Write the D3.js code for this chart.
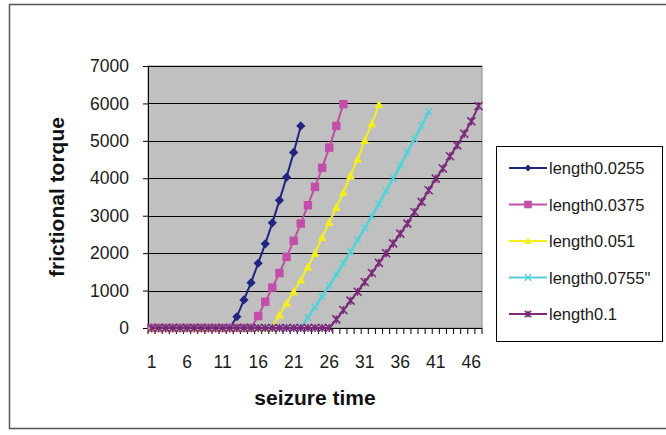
<!DOCTYPE html>
<html>
<head>
<meta charset="utf-8">
<script src="https://cdn.jsdelivr.net/npm/d3@7"></script>
<style>
  html, body { margin: 0; padding: 0; background: #fff; }
  svg { display: block; font-family: "Liberation Sans", Arial, sans-serif; }
</style>
</head>
<body>
<svg id="chart" width="666" height="435"></svg>
<script>
// Category axis (seizure time steps) and visible tick labels
const categories = [1,2,3,4,5,6,7,8,9,10,11,12,13,14,15,16,17,18,19,20,21,22,23,24,25,26,27,28,29,30,31,32,33,34,35,36,37,38,39,40,41,42,43,44,45,46,47];
const xTickLabels = [1, 6, 11, 16, 21, 26, 31, 36, 41, 46];
const yTicks = [0, 1000, 2000, 3000, 4000, 5000, 6000, 7000];

// Frictional torque per series
const length0255 = [0,0,0,0,0,0,0,0,0,0,0,0, 300,750,1210,1730,2250,2810,3410,4030,4690,5400];
const length0375 = [0,0,0,0,0,0,0,0,0,0,0,0,0,0,0, 320,700,1080,1470,1900,2330,2790,3280,3770,4280,4820,5400,5980];
const length051  = [0,0,0,0,0,0,0,0,0,0,0,0,0,0,0,0,0,0, 350,660,970,1280,1630,2000,2420,2820,3220,3620,4070,4510,5010,5460,5970];
const length0755 = [0,0,0,0,0,0,0,0,0,0,0,0,0,0,0,0,0,0,0,0,0,0, 280,560,840,1130,1430,1730,2040,2350,2670,2990,3320,3660,4000,4340,4700,5050,5410,5780];
const length01   = [0,0,0,0,0,0,0,0,0,0,0,0,0,0,0,0,0,0,0,0,0,0,0,0,0,0, 230,480,730,970,1230,1470,1740,2000,2260,2520,2790,3100,3370,3680,3990,4260,4590,4880,5190,5520,5930];

const seriesNames = ["length0.0255", "length0.0375", "length0.051", "length0.0755\"", "length0.1"];
const seriesValues = [length0255, length0375, length051, length0755, length01];
const seriesColors = ["#1f2580", "#c24ea9", "#f4ef1c", "#52d2d8", "#7b2a7a"];
const seriesMarkers = ["diamond", "square", "triangle", "cross", "star"];

const svg = d3.select("#chart");

// Outer chart frame
svg.append("rect")
  .attr("x", 9.5).attr("y", 4.5).attr("width", 670).attr("height", 424)
  .attr("fill", "#fff").attr("stroke", "#555").attr("stroke-width", 1.5);

const plot = { left: 148, right: 482, top: 66, bottom: 328 };

const x = d3.scaleBand().domain(categories).range([plot.left, plot.right]).paddingInner(0).paddingOuter(0);
const cx = d => x(d) + x.bandwidth() / 2;
const y = d3.scaleLinear().domain([0, 7000]).range([plot.bottom, plot.top]);

// Plot area
svg.append("rect")
  .attr("x", plot.left).attr("y", plot.top)
  .attr("width", plot.right - plot.left).attr("height", plot.bottom - plot.top)
  .attr("fill", "#c0c0c0").attr("stroke", "#8c8c8c").attr("stroke-width", 1);

// Horizontal gridlines
svg.append("g").selectAll("line")
  .data(yTicks.filter(v => v > 0))
  .join("line")
  .attr("x1", plot.left).attr("x2", plot.right)
  .attr("y1", d => Math.round(y(d)) + 0.5).attr("y2", d => Math.round(y(d)) + 0.5)
  .attr("stroke", "#000").attr("stroke-width", 1.2);

// Y axis
const yAxis = d3.axisLeft(y).tickValues(yTicks).tickSize(5).tickPadding(14).tickFormat(d3.format("d"));
const gy = svg.append("g").attr("transform", `translate(${plot.left},0)`).call(yAxis);
gy.select(".domain").attr("stroke", "#000");
gy.selectAll(".tick line").attr("stroke", "#000");
gy.selectAll(".tick text").attr("font-size", 17.5).attr("fill", "#1a1a1a")
  .attr("font-family", "Liberation Sans, Arial, sans-serif");

// X axis: line with ticks between categories
const gx = svg.append("g");
gx.append("line")
  .attr("x1", plot.left).attr("x2", plot.right)
  .attr("y1", plot.bottom + 0.5).attr("y2", plot.bottom + 0.5)
  .attr("stroke", "#000").attr("stroke-width", 1.2);
const boundaries = categories.map(c => x(c)).concat([plot.right]);
gx.selectAll("line.tk")
  .data(boundaries)
  .join("line").attr("class", "tk")
  .attr("x1", d => d).attr("x2", d => d)
  .attr("y1", plot.bottom).attr("y2", plot.bottom + 6)
  .attr("stroke", "#000").attr("stroke-width", 1);
gx.selectAll("text")
  .data(xTickLabels)
  .join("text")
  .attr("x", d => cx(d)).attr("y", plot.bottom + 40)
  .attr("text-anchor", "middle")
  .attr("font-size", 17.5).attr("fill", "#1a1a1a")
  .text(d => d);

// Axis titles
svg.append("text")
  .attr("x", 315).attr("y", 405)
  .attr("text-anchor", "middle")
  .attr("font-size", 21).attr("font-weight", "bold").attr("fill", "#111")
  .text("seizure time");
svg.append("text")
  .attr("transform", `translate(64,${(plot.top + plot.bottom) / 2}) rotate(-90)`)
  .attr("text-anchor", "middle")
  .attr("font-size", 21).attr("font-weight", "bold").attr("fill", "#111")
  .text("frictional torque");

// Marker drawing
function drawMarker(g, type, color, px, py, s) {
  switch (type) {
    case "diamond":
      g.append("path").attr("d", `M${px},${py - s}L${px + s},${py}L${px},${py + s}L${px - s},${py}Z`)
        .attr("fill", color);
      break;
    case "square":
      g.append("rect").attr("x", px - s).attr("y", py - s).attr("width", 2 * s).attr("height", 2 * s)
        .attr("fill", color);
      break;
    case "triangle":
      g.append("path").attr("d", `M${px},${py - s}L${px + s},${py + s * 0.8}L${px - s},${py + s * 0.8}Z`)
        .attr("fill", color);
      break;
    case "cross":
      g.append("path").attr("d", `M${px - s},${py - s}L${px + s},${py + s}M${px - s},${py + s}L${px + s},${py - s}`)
        .attr("stroke", color).attr("stroke-width", 1.5).attr("fill", "none");
      break;
    case "star":
      g.append("path").attr("d", `M${px - s},${py - s}L${px + s},${py + s}M${px - s},${py + s}L${px + s},${py - s}M${px},${py - s}L${px},${py + s}`)
        .attr("stroke", color).attr("stroke-width", 1.6).attr("fill", "none");
      break;
  }
}

const line = d3.line().x((d, i) => cx(categories[i])).y(d => y(d));

seriesValues.forEach((vals, si) => {
  const g = svg.append("g");
  g.append("path")
    .attr("d", line(vals))
    .attr("fill", "none")
    .attr("stroke", seriesColors[si])
    .attr("stroke-width", si === 3 ? 2.6 : 2);
  const size = [4.6, 4.2, 4.4, 3.2, 4][si];
  vals.forEach((v, i) => drawMarker(g, seriesMarkers[si], seriesColors[si], cx(categories[i]), y(v), size));
});

// Legend
const legend = svg.append("g");
legend.append("rect")
  .attr("x", 496.5).attr("y", 146.5).attr("width", 166).attr("height", 195)
  .attr("fill", "#fff").attr("stroke", "#000").attr("stroke-width", 1);
seriesNames.forEach((name, i) => {
  const ly = 168 + i * 36.5;
  const g = legend.append("g");
  g.append("line").attr("x1", 509).attr("x2", 547).attr("y1", ly).attr("y2", ly)
    .attr("stroke", seriesColors[i]).attr("stroke-width", 2);
  drawMarker(g, seriesMarkers[i], seriesColors[i], 528, ly, [3.5, 3.8, 3.8, 3.2, 3.2][i]);
  g.append("text").attr("x", 549).attr("y", ly + 6)
    .attr("font-size", 16.5).attr("fill", "#1a1a1a").text(name);
});
</script>
</body>
</html>
